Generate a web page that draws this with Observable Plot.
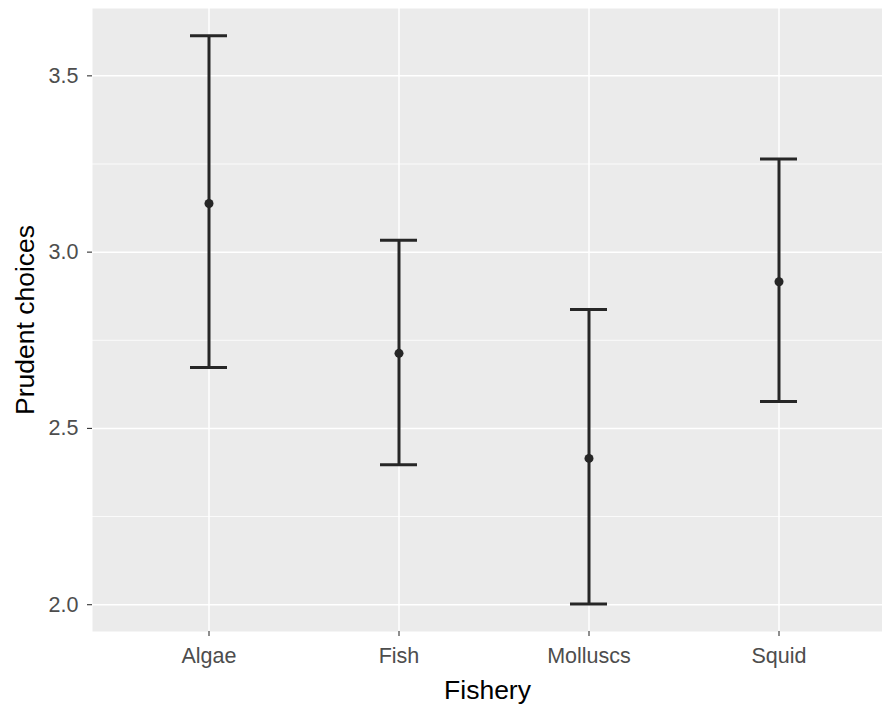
<!DOCTYPE html>
<html><head><meta charset="utf-8">
<script src="https://cdn.jsdelivr.net/npm/d3@7"></script>
<script src="https://cdn.jsdelivr.net/npm/@observablehq/plot@0.6"></script>
<style>body{margin:0;background:#fff}</style>
</head><body><div id="chart"></div>
<script>
const fishery = ["Algae", "Fish", "Molluscs", "Squid"];
const meanValues = [3.138, 2.713, 2.415, 2.916];
const lowerValues = [2.673, 2.397, 2.002, 2.576];
const upperValues = [3.614, 3.034, 2.837, 3.264];
const majorTicks = [2.0, 2.5, 3.0, 3.5];
const minorTicks = [2.25, 2.75, 3.25];
const xTitle = "Fishery";
const yTitle = "Prudent choices";

const data = fishery.map((f, i) => ({fishery: f, mean: meanValues[i], lower: lowerValues[i], upper: upperValues[i]}));

const font = "'Liberation Sans', Arial, sans-serif";
const ink = "#262626";

const chart = Plot.plot({
  width: 882,
  height: 708,
  marginLeft: 92,
  marginRight: 0,
  marginTop: 8,
  marginBottom: 77,
  style: {fontFamily: font, background: "#fff"},
  x: {type: "band", domain: fishery, range: [34.8, 951.2], padding: 0.806, align: 0.5},
  y: {domain: [1.924, 3.691]},
  marks: [
    Plot.frame({fill: "#ebebeb", stroke: null}),
    Plot.ruleY(minorTicks, {stroke: "#fff", strokeWidth: 0.8}),
    Plot.ruleY(majorTicks, {stroke: "#fff", strokeWidth: 1.5}),
    Plot.ruleX(fishery, {x: d => d, stroke: "#fff", strokeWidth: 1.5}),
    Plot.ruleX(data, {x: "fishery", y1: "lower", y2: "upper", stroke: ink, strokeWidth: 3}),
    Plot.tickY(data, {x: "fishery", y: "lower", stroke: ink, strokeWidth: 3}),
    Plot.tickY(data, {x: "fishery", y: "upper", stroke: ink, strokeWidth: 3}),
    Plot.dot(data, {x: "fishery", y: "mean", r: 4.5, fill: ink, stroke: null}),
    Plot.axisY({ticks: majorTicks, tickFormat: d3.format(".1f"), tickSize: 5, tickPadding: 9,
      fontSize: 21.5, fill: "#4d4d4d", stroke: "#333", strokeWidth: 1.1, label: null}),
    Plot.axisX({tickSize: 5, tickPadding: 11, fontSize: 21.5, fill: "#4d4d4d",
      stroke: "#333", strokeWidth: 1.1, label: null}),
    Plot.text([xTitle], {frameAnchor: "bottom", dy: 59, text: d => d, fontSize: 26.5, fill: "#000", lineAnchor: "middle", textAnchor: "middle"}),
    Plot.text([yTitle], {frameAnchor: "left", dx: -67, text: d => d, rotate: -90, fontSize: 26.5, fill: "#000", lineAnchor: "middle", textAnchor: "middle"})
  ]
});
document.getElementById("chart").appendChild(chart);
</script>
</body></html>
